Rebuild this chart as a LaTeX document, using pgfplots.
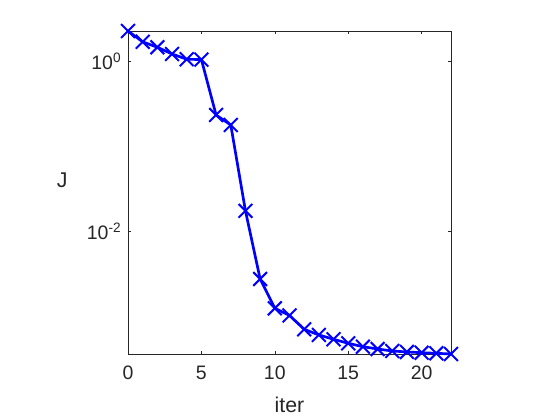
\documentclass[border=0pt]{standalone}
\usepackage{fontspec}
\setmainfont{Liberation Sans}
\usepackage{pgfplots}
\pgfplotsset{compat=1.18}
\definecolor{axgray}{RGB}{38,38,38}

\begin{document}
\begin{tikzpicture}
\path[use as bounding box] (0,0) rectangle (420pt,315pt);
\begin{axis}[
  at={(96pt,49.5pt)}, anchor=south west,
  scale only axis, width=242.25pt, height=242.25pt,
  ymode=log,
  xmin=0, xmax=22, ymin=3.67e-4, ymax=2.25,
  xtick={0,5,10,15,20},
  ytick={1,0.01},
  yticklabels={10\textsuperscript{0},10\textsuperscript{-2}},
  /pgf/number format/assume math mode=true,
  minor tick length=0pt,
  tick pos=both, tick align=inside,
  major tick length=2.4pt,
  axis line style={axgray, line width=0.4pt},
  every tick/.style={axgray, line width=0.4pt},
  tick label style={font=\fontsize{14.6}{17}\selectfont, text=axgray},
  xticklabel style={yshift=-5.5pt},
  yticklabel style={xshift=-1.5pt},
  xlabel={iter}, ylabel={J},
  label style={font=\fontsize{16}{19}\selectfont, text=axgray},
  x label style={at={(axis description cs:0.5,-0.158)}, anchor=center},
  y label style={at={(axis description cs:-0.204,0.539)}, anchor=center, rotate=-90},
  clip=false,
]
\addplot[color=blue, line width=2pt, mark=x, mark size=7.3pt,
  mark options={line width=1.5pt}] coordinates {
  (0,2.25) (1,1.68) (2,1.45) (3,1.21) (4,1.05) (5,1.04)
  (6,0.233) (7,0.178) (8,0.0175) (9,0.00278) (10,0.00126)
  (11,0.00104) (12,7.15e-4) (13,6.14e-4) (14,5.46e-4) (15,4.90e-4)
  (16,4.47e-4) (17,4.20e-4) (18,3.98e-4) (19,3.88e-4) (20,3.80e-4)
  (21,3.74e-4) (22,3.67e-4)
};
\end{axis}
\end{tikzpicture}
\end{document}
